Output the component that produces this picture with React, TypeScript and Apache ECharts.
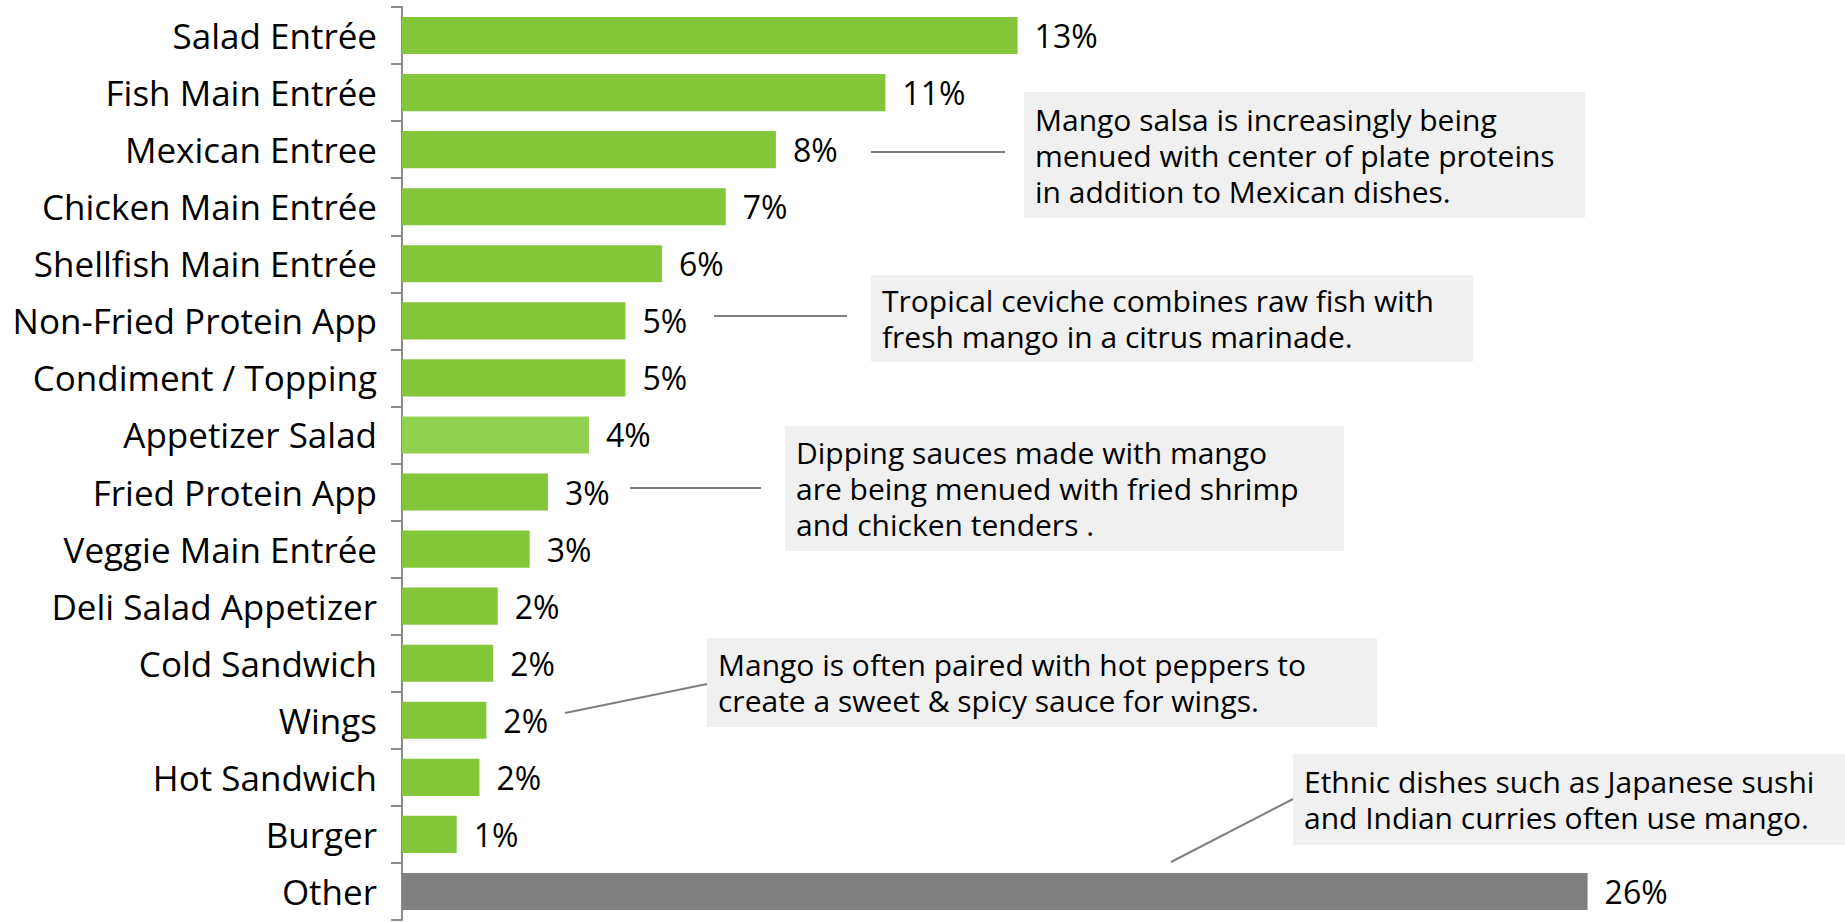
import React, { useEffect, useRef } from "react";
import * as echarts from "echarts";

const categories = [
  "Salad Entrée",
  "Fish Main Entrée",
  "Mexican Entree",
  "Chicken Main Entrée",
  "Shellfish Main Entrée",
  "Non-Fried Protein App",
  "Condiment / Topping",
  "Appetizer Salad",
  "Fried Protein App",
  "Veggie Main Entrée",
  "Deli Salad Appetizer",
  "Cold Sandwich",
  "Wings",
  "Hot Sandwich",
  "Burger",
  "Other",
];

const values = [13.5, 10.6, 8.2, 7.1, 5.7, 4.9, 4.9, 4.1, 3.2, 2.8, 2.1, 2.0, 1.85, 1.7, 1.2, 26.0];

const valueLabels = ["13%", "11%", "8%", "7%", "6%", "5%", "5%", "4%", "3%", "3%", "2%", "2%", "2%", "2%", "1%", "26%"];

const barColors = [
  "#83C63A", "#83C63A", "#83C63A", "#83C63A", "#83C63A", "#83C63A", "#83C63A",
  "#92D050",
  "#83C63A", "#83C63A", "#83C63A", "#83C63A", "#83C63A", "#83C63A", "#83C63A",
  "#808080",
];

const notes = [
  ["Mango salsa is increasingly being", "menued with center of plate proteins", "in addition to Mexican dishes."],
  ["Tropical ceviche combines raw fish with", "fresh mango in a citrus marinade."],
  ["Dipping sauces made with mango", "are being menued with fried shrimp", "and chicken tenders ."],
  ["Mango is often paired with hot peppers to", "create a sweet & spicy sauce for wings."],
  ["Ethnic dishes such as Japanese sushi", "and Indian curries often use mango."],
];

const FONT = "'Open Sans', 'Noto Sans', sans-serif";
const LINE_H = 36;

function noteBox(lines: string[], x: number, y: number, w: number, h: number, line: number[]) {
  const cy = y + h / 2;
  const first = cy - ((lines.length - 1) * LINE_H) / 2;
  return [
    {
      type: "rect",
      shape: { x, y, width: w, height: h },
      style: { fill: "#F0F0F0" },
      z: 10,
    },
    ...lines.map((t, i) => ({
      type: "text",
      x: x + 11,
      y: first + i * LINE_H,
      style: {
        text: t,
        fill: "#000000",
        font: `30px ${FONT}`,
        lineHeight: 34,
        verticalAlign: "middle",
        align: "left",
      },
      z: 11,
    })),
    {
      type: "line",
      shape: { x1: line[0], y1: line[1], x2: line[2], y2: line[3] },
      style: { stroke: "#7F7F7F", lineWidth: 2 },
      z: 10,
    },
  ];
}

export default function App() {
  const ref = useRef<HTMLDivElement>(null);

  useEffect(() => {
    if (!ref.current) return;
    const chart = echarts.init(ref.current, null, { renderer: "svg" });
    const option = {
      animation: false,
      backgroundColor: "#ffffff",
      grid: { left: 402, right: 75, top: 7, bottom: 2, containLabel: false },
      xAxis: {
        type: "value",
        min: 0,
        max: 30,
        show: false,
      },
      yAxis: {
        type: "category",
        inverse: true,
        data: categories,
        axisLine: { show: true, lineStyle: { color: "#8C8C8C", width: 2 } },
        axisTick: { show: true, length: 11, lineStyle: { color: "#8C8C8C", width: 2 } },
        axisLabel: {
          margin: 25,
          color: "#000000",
          fontSize: 35,
          fontFamily: FONT,
        },
        splitLine: { show: false },
      },
      series: [
        {
          type: "bar",
          barCategoryGap: "35%",
          data: values.map((v, i) => ({ value: v, itemStyle: { color: barColors[i] } })),
          label: {
            show: true,
            position: "right",
            distance: 17,
            color: "#000000",
            fontSize: 32,
            fontFamily: FONT,
            formatter: (p: any) => valueLabels[p.dataIndex],
          },
        },
      ],
      graphic: [
        ...noteBox(notes[0], 1024, 92, 561, 126, [871, 152, 1005, 152]),
        ...noteBox(notes[1], 871, 275, 602, 87, [714, 316, 847, 316]),
        ...noteBox(notes[2], 785, 426, 559, 125, [630, 488, 761, 488]),
        ...noteBox(notes[3], 707, 638, 670, 89, [565, 713, 707, 684]),
        ...noteBox(notes[4], 1293, 754, 552, 91, [1171, 862, 1293, 799]),
      ],
    };
    chart.setOption(option as any);
    return () => chart.dispose();
  }, []);

  return (
    <div
      ref={ref}
      style={{ position: "fixed", left: 0, top: 0, width: 1845, height: 922, background: "#fff" }}
    />
  );
}
